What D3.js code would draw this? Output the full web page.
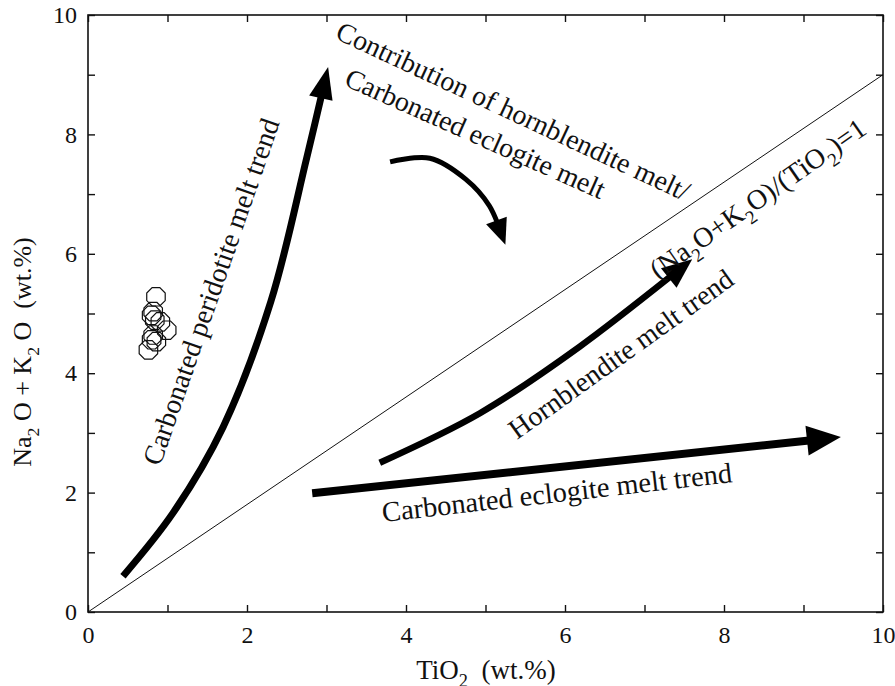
<!DOCTYPE html>
<html>
<head>
<meta charset="utf-8">
<script src="https://cdn.jsdelivr.net/npm/d3@7"></script>
<style>
  body { margin: 0; background: #fff; }
  text { font-family: "Liberation Serif", "Times New Roman", serif; fill: #111; }
</style>
</head>
<body>
<div id="chart"></div>
<script>
// 数据: 样品点 TiO2 / Na2O+K2O
const sampleTi = [0.855, 0.82, 0.80, 0.84, 0.99, 0.82, 0.80, 0.76, 0.86, 0.91];
const sampleAlk = [5.28, 5.03, 4.97, 4.89, 4.72, 4.64, 4.56, 4.39, 4.53, 4.86];

// 趋势箭头 (沿线的点)
const peridotiteTi = [0.44, 1.07, 1.7, 2.3, 2.75, 3.02];
const peridotiteAlk = [0.6, 1.66, 3.1, 5.2, 7.6, 9.13];
const hornblenditeTi = [3.67, 4.93, 6.19, 7.6];
const hornblenditeAlk = [2.5, 3.33, 4.45, 5.91];
const eclogiteTi = [2.82, 9.47];
const eclogiteAlk = [1.99, 2.93];
const contribTi = [3.8, 4.3, 4.75, 5.05, 5.25];
const contribAlk = [7.54, 7.6, 7.25, 6.8, 6.15];

// 参考线 (Na2O+K2O)/(TiO2)=1
const refTi = [0, 10];
const refAlk = [0, 9];

const xTicks = [0, 1, 2, 3, 4, 5, 6, 7, 8, 9, 10];
const yTicks = [0, 1, 2, 3, 4, 5, 6, 7, 8, 9, 10];

const width = 895, height = 686;
const margin = {left: 88, right: 12, top: 15, bottom: 74};
const gW = width - margin.left - margin.right;
const gH = height - margin.top - margin.bottom;

const svg = d3.select('#chart').append('svg')
    .attr('width', width).attr('height', height);
const g = svg.append('g').attr('transform', 'translate(' + margin.left + ',' + margin.top + ')');

const xScale = d3.scaleLinear().domain([0, 10]).range([0, gW]);
const yScale = d3.scaleLinear().domain([0, 10]).range([gH, 0]);

// 坐标轴, 刻度朝内
const evenFmt = d => (d % 2 === 0 ? d : '');
const styleAxis = sel => {
    sel.select('.domain').remove();
    sel.selectAll('line').attr('stroke', '#111').attr('stroke-width', 1.4);
    sel.selectAll('text').style('font-size', '24px').attr('fill', '#111');
    sel.selectAll('text').filter(function () { return this.textContent === ''; }).remove();
};
g.append('g').attr('transform', 'translate(0,' + gH + ')')
    .call(d3.axisBottom(xScale).tickValues(xTicks).tickSize(-7).tickPadding(14).tickFormat(evenFmt))
    .call(styleAxis);
g.append('g')
    .call(d3.axisTop(xScale).tickValues(xTicks).tickSize(-7).tickFormat(''))
    .call(styleAxis);
g.append('g')
    .call(d3.axisLeft(yScale).tickValues(yTicks).tickSize(-7).tickPadding(11).tickFormat(evenFmt))
    .call(styleAxis);
g.append('g').attr('transform', 'translate(' + gW + ',0)')
    .call(d3.axisRight(yScale).tickValues(yTicks).tickSize(-7).tickFormat(''))
    .call(styleAxis);
g.append('rect').attr('width', gW).attr('height', gH)
    .attr('fill', 'none').attr('stroke', '#111').attr('stroke-width', 1.6);

// 参考线
const line = d3.line().x(d => xScale(d[0])).y(d => yScale(d[1]));
g.append('path').attr('d', line(d3.zip(refTi, refAlk)))
    .attr('stroke', '#111').attr('stroke-width', 1).attr('fill', 'none');

// 样品点 (八边形)
const oct = r => {
    const p = d3.range(8).map(i => {
        const a = Math.PI / 8 + i * Math.PI / 4;
        return [r * Math.cos(a), r * Math.sin(a)];
    });
    return 'M' + p.join('L') + 'Z';
};
g.selectAll('path.pt').data(d3.zip(sampleTi, sampleAlk)).enter()
    .append('path').attr('class', 'pt')
    .attr('transform', d => 'translate(' + xScale(d[0]) + ',' + yScale(d[1]) + ')')
    .attr('d', oct(10))
    .attr('fill', 'none').attr('stroke', '#111').attr('stroke-width', 1.2);

// 箭头: 曲线 + 三角形箭头
const curve = d3.line().x(d => xScale(d[0])).y(d => yScale(d[1])).curve(d3.curveCatmullRom.alpha(0.5));
function arrow(xs, ys, sw, headLen, headW) {
    const pts = d3.zip(xs, ys);
    const path = g.append('path').attr('d', curve(pts))
        .attr('fill', 'none').attr('stroke', '#000').attr('stroke-width', sw);
    const L = path.node().getTotalLength();
    const base = path.node().getPointAtLength(L - headLen);
    const tip = path.node().getPointAtLength(L);
    path.attr('stroke-dasharray', (L - headLen + 2) + ' ' + L);
    const dx = tip.x - base.x, dy = tip.y - base.y;
    const len = Math.hypot(dx, dy);
    const nx = -dy / len * headW / 2, ny = dx / len * headW / 2;
    g.append('path')
        .attr('d', 'M' + tip.x + ',' + tip.y + 'L' + (base.x + nx) + ',' + (base.y + ny) +
            'L' + (base.x - nx) + ',' + (base.y - ny) + 'Z')
        .attr('fill', '#000');
}
arrow(peridotiteTi, peridotiteAlk, 7, 32, 24);
arrow(hornblenditeTi, hornblenditeAlk, 6.5, 30, 25);
arrow(eclogiteTi, eclogiteAlk, 8, 34, 30);
arrow(contribTi, contribAlk, 5, 26, 22);

// 注释文字, 支持下标
function label(x, y, angle, parts, size) {
    const t = svg.append('text')
        .attr('transform', 'translate(' + x + ',' + y + ') rotate(' + angle + ')')
        .style('font-size', size + 'px')
        .style('white-space', 'pre');
    let back = 0;
    parts.forEach(p => {
        if (typeof p === 'string') {
            t.append('tspan').attr('dy', back).text(p);
            back = 0;
        } else {
            t.append('tspan').attr('dy', size * 0.3).style('font-size', (size * 0.68) + 'px').text(p.sub);
            back = -size * 0.3;
        }
    });
    return t;
}
label(160, 467, -70.8, ['Carbonated peridotite melt trend'], 28);
label(334, 38, 25, ['Contribution of hornblendite melt/'], 28);
label(343, 85, 24, ['Carbonated eclogite melt'], 28);
label(658, 280, -35, ['(Na', {sub: '2'}, 'O+K', {sub: '2'}, 'O)/(TiO', {sub: '2'}, ')=1'], 28);
label(517, 440, -35.6, ['Hornblendite melt trend'], 28);
label(383, 522, -6.5, ['Carbonated eclogite melt trend'], 28.5);

// 轴标题
label(486, 679, 0, ['TiO', {sub: '2'}, '  (wt.%)'], 27).attr('text-anchor', 'middle');
label(31, 352, -90, ['Na', {sub: '2'}, ' O + K', {sub: '2'}, ' O  (wt.%)'], 26).attr('text-anchor', 'middle');
</script>
</body>
</html>
